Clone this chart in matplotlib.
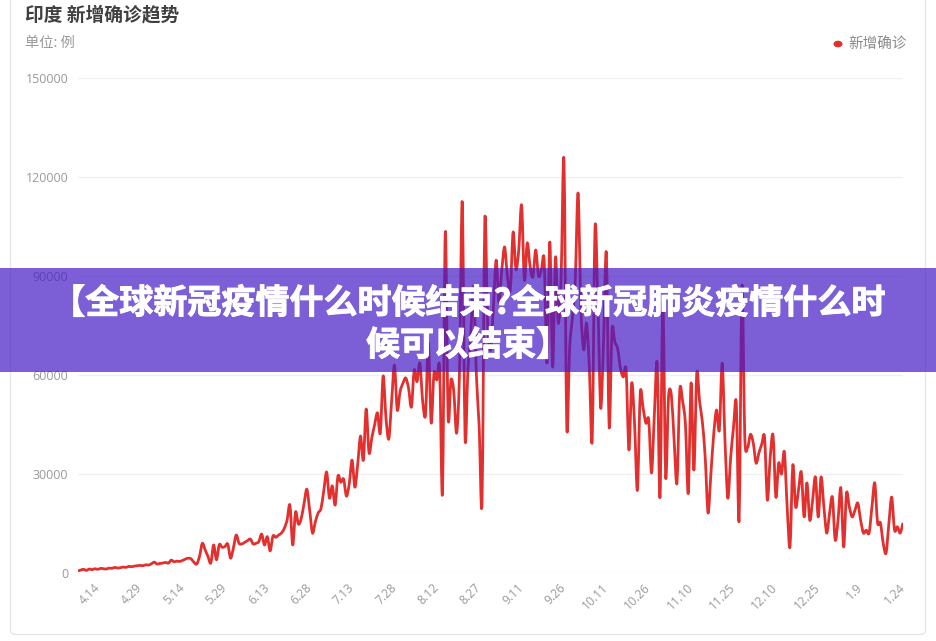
import pandas as pd
import matplotlib
matplotlib.use('Agg')
import matplotlib.pyplot as plt
import matplotlib.patheffects as pe
from matplotlib.patches import Rectangle, FancyBboxPatch, PathPatch
from matplotlib.path import Path

plt.rcParams['font.family'] = ['Noto Sans CJK SC', 'DejaVu Sans']

# daily new confirmed cases, India, 2020-04-07 .. 2021-01-24
new_cases = [
    600, 900, 1100, 800, 1200, 1000, 1300, 1100, 1400, 1300, 1200, 1500, 1400, 1700, 1500,
    1600, 1800, 1700, 2000, 1900, 2100, 2200, 2300, 2200, 2500, 2400, 2800, 3300, 2700, 2900, 3000,
    3200, 3000, 3900, 3400, 3600, 3500, 3800, 4200, 4500, 4300, 3300, 2700, 5000, 9000, 7000,
    5000, 3000, 8500, 4000, 8600, 7800, 8000, 8800, 4500, 7600, 11500, 9000, 8800, 9300, 9800,
    10300, 8800, 9000, 9500, 11800, 8500, 11000, 6700, 11200, 10800, 11500, 12100, 13500, 16000, 20600, 8500,
    18500, 14800, 16500, 21000, 25400, 19000, 12100, 15500, 18200, 19500, 25000, 30600, 22700, 26400, 20600,
    29400, 27500, 28500, 23300, 27000, 34200, 26000, 33000, 41500, 34200, 49700, 36400, 41000, 45000, 48500, 42400,
    59700, 47000, 40600, 52000, 63000, 49400, 55000, 57500, 59100, 56000, 50300, 61500, 58000, 63600, 52000,
    48000, 69700, 45500, 60600, 58500, 62000, 24200, 103300, 47300, 58500, 55000, 42400, 60000, 112400, 40900,
    61500, 72000, 86700, 60000, 44200, 21500, 107000, 75000, 67600, 80000, 94800, 82000, 91800, 98800, 89700, 85700,
    103300, 92000, 97900, 111500, 88800, 100000, 93000, 89700, 97900, 90000, 91800, 94800, 63600, 100300, 62400,
    95700, 75700, 89700, 125100, 44200, 68000, 77600, 88800, 115100, 80000, 67600, 75700, 62000, 40300, 104800,
    82000, 50000, 70000, 97000, 44200, 73600, 70000, 68000, 62000, 59400, 61500, 37300, 57600, 45000, 25100, 54500,
    50000, 45400, 46400, 30300, 48000, 63600, 23000, 82000, 29100, 53300, 54000, 40000, 27300, 55400, 52000,
    45000, 24200, 57600, 31200, 60600, 52000, 45700, 35000, 18200, 30000, 42000, 49400, 43300, 63600, 40000,
    22700, 35000, 44000, 51500, 16000, 87000, 41200, 38000, 42000, 39400, 33300, 36400, 39000, 41200, 22100, 35000,
    41800, 23000, 33300, 30000, 36700, 20000, 7900, 32700, 20000, 25000, 30600, 17000, 27300, 16000, 22000,
    29100, 17000, 29100, 20000, 12100, 18000, 23000, 10000, 16000, 25800, 7900, 24200, 20000, 17000, 19000, 21200,
    16000, 12100, 13000, 12100, 20000, 27300, 15200, 15200, 9000, 6000, 15000, 23000, 13000, 14000, 12100, 15200,
]
dates = pd.date_range('2020-04-07', periods=len(new_cases))
y_ticks = [0, 30000, 60000, 90000, 120000, 150000]

title = '印度 新增确诊趋势'
unit = '单位: 例'
series_name = '新增确诊'
banner = '【全球新冠疫情什么时候结束?全球新冠肺炎疫情什么时\n候可以结束】'

RED = '#e2302f'
GRAY = '#999999'


def smooth_path(xs, ys, k=0.3):
    # bezier path through the points, like a smoothed echarts line
    verts = [(xs[0], ys[0])]
    codes = [Path.MOVETO]
    n = len(xs)
    for i in range(n - 1):
        x0, y0 = xs[max(i - 1, 0)], ys[max(i - 1, 0)]
        x1, y1 = xs[i], ys[i]
        x2, y2 = xs[i + 1], ys[i + 1]
        x3, y3 = xs[min(i + 2, n - 1)], ys[min(i + 2, n - 1)]
        c1 = (x1 + (x2 - x0) * k / 2, y1 + (y2 - y0) * k / 2)
        c2 = (x2 - (x3 - x1) * k / 2, y2 - (y3 - y1) * k / 2)
        verts += [c1, c2, (x2, y2)]
        codes += [Path.CURVE4] * 3
    return Path(verts, codes)


fig = plt.figure(figsize=(9.36, 6.41), dpi=100)

# card outline
fig.patches.append(FancyBboxPatch((10.5 / 936, 6.5 / 641), 915 / 936, 650 / 641,
                                  boxstyle='round,pad=0,rounding_size=0.006',
                                  transform=fig.transFigure, facecolor='white',
                                  edgecolor='#e6e6e6', linewidth=1, zorder=-5))

ax = fig.add_axes([78 / 936, 1 - 573 / 641, 825 / 936, (573 - 78) / 641])
x = list(range(len(new_cases)))
ax.add_patch(PathPatch(smooth_path(x, new_cases), facecolor='none', edgecolor=RED,
                       linewidth=2.0, joinstyle='round', zorder=3))

ax.set_xlim(0, len(new_cases) - 1)
ax.set_ylim(0, 150000)
ax.set_yticks(y_ticks)
ax.set_yticklabels([str(v) for v in y_ticks], family='Open Sans', fontsize=9, color=GRAY)
ax.grid(axis='y', color='#f0f0f0', linewidth=1)
ax.grid(axis='x', visible=False)
for s in ax.spines.values():
    s.set_visible(False)
ax.set_axisbelow(True)

tick_idx = list(range(7, len(new_cases), 15))
ax.set_xticks(tick_idx)
ax.set_xticklabels([f'{dates[i].month}.{dates[i].day}' for i in tick_idx],
                   rotation=45, ha='right', va='center', rotation_mode='anchor',
                   family='Open Sans', fontsize=8.7, color=GRAY)
ax.tick_params(axis='both', length=0)
ax.tick_params(axis='x', pad=9)
ax.tick_params(axis='y', pad=7)
ax.set_facecolor('none')

# title, unit and legend
fig.text(25 / 936, 1 - 15 / 641, title, fontsize=13.5, fontweight='bold', color='#404040',
         ha='left', va='center')
fig.text(25 / 936, 1 - 43 / 641, unit, fontsize=10.3, color=GRAY, ha='left', va='center')
fig.patches.append(plt.Circle((838 / 936, 1 - 44 / 641), 3.8 / 936, transform=fig.transFigure,
                              color=RED, zorder=5))
fig.text(848 / 936, 1 - 44 / 641, series_name, fontsize=10.5, color='#8a8a8a',
         ha='left', va='center')

# purple banner over the chart
fig.patches.append(Rectangle((0, 1 - 372 / 641), 1, 104 / 641, transform=fig.transFigure,
                             facecolor='#451ac6', alpha=0.7, edgecolor='none', zorder=10))
fig.text(0.5, 1 - 324 / 641, banner, fontsize=24.5, fontweight='black', color='white',
         ha='center', va='center', linespacing=1.25, zorder=11,
         path_effects=[pe.withStroke(linewidth=0.7, foreground='white')])

fig.savefig('out.png', dpi=100)
